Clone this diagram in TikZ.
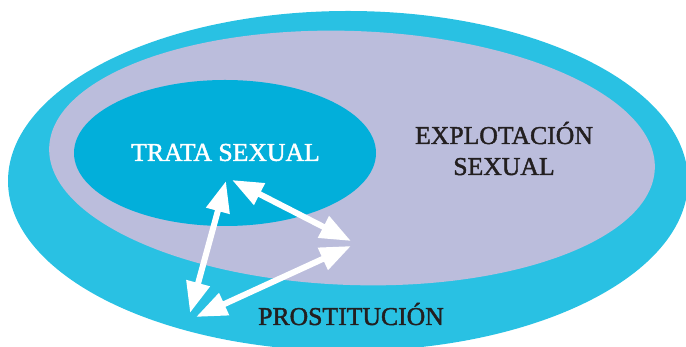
\documentclass[tikz,border=0pt]{standalone}
\usepackage{fontspec}
\setmainfont[FakeBold=1.6]{Liberation Serif}
\usepackage{tikz}
\usetikzlibrary{arrows.meta}

\definecolor{outercyan}{RGB}{41,193,227}
\definecolor{lavender}{RGB}{187,189,220}
\definecolor{innercyan}{RGB}{2,175,218}
\definecolor{darktext}{RGB}{35,31,32}

\tikzset{
  label/.style={font=\fontsize{25.7}{31}\selectfont, inner sep=0pt},
  twoway/.style={white, line width=6pt,
    {Triangle[length=31pt,width=23pt]}-{Triangle[length=31pt,width=23pt]}}
}

\begin{document}
\begin{tikzpicture}[x=1pt,y=1pt]
		\clip (0,0) rectangle (686,347);

		% the three areas
		\fill[outercyan] (348,166) ellipse (340 and 170);
		\fill[lavender, rotate around={-2:(352,189)}] (352,189) ellipse (303 and 127);
		\fill[innercyan] (225,194) ellipse (151 and 73);

		\node[label, white] (trata) at (225.5,194.5) {TRATA SEXUAL};
		\node[label, darktext, align=center, anchor=base] (explot) at (504,172) {EXPLOTACIÓN\\SEXUAL};
		\node[label, darktext, anchor=base] (prost) at (351,22) {PROSTITUCIÓN};

		% arrow ends
		\coordinate (vtop) at (226,166);
		\coordinate (vbot) at (190,34);
		\coordinate (dtop) at (232,167);
		\coordinate (dright) at (351,106);
		\coordinate (bright) at (351,101);
		\coordinate (bleft) at (196,30);

		\draw[twoway] (vtop) -- (vbot);
		\draw[twoway] (dtop) -- (dright);
		\draw[twoway] (bright) -- (bleft);

	\end{tikzpicture}
\end{document}
